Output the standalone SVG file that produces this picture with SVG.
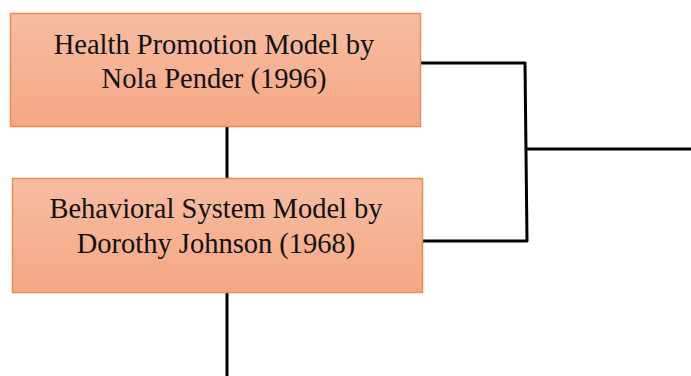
<svg xmlns="http://www.w3.org/2000/svg" width="691" height="376" viewBox="0 0 691 376">
<defs>
<linearGradient id="g" x1="0" y1="0" x2="0" y2="1">
<stop offset="0" stop-color="#F7BDA2"/>
<stop offset="1" stop-color="#F5A783"/>
</linearGradient>
</defs>
<style>
.box{fill:url(#g);stroke:#F08C4E;stroke-width:1.5}
.t{font-family:"Liberation Serif","Times New Roman",serif;font-size:28.5px;fill:#111;text-anchor:middle}
.c{fill:none;stroke:#000;stroke-width:3;stroke-linejoin:round}
</style>
<g id="connectors">
<path class="c" d="M227 127V178"/>
<path class="c" d="M227 293V376"/>
<path class="c" d="M421 63H525L527 241H423"/>
<path class="c" d="M526 149H691"/>
</g>
<g id="node1">
<rect class="box" x="10.5" y="13.5" width="410" height="113"/>
<text class="t" x="214" y="54">Health Promotion Model by</text>
<text class="t" x="214" y="88">Nola Pender (1996)</text>
</g>
<g id="node2">
<rect class="box" x="12.5" y="178.5" width="410" height="114"/>
<text class="t" x="216" y="218">Behavioral System Model by</text>
<text class="t" x="216" y="253">Dorothy Johnson (1968)</text>
</g>
</svg>
